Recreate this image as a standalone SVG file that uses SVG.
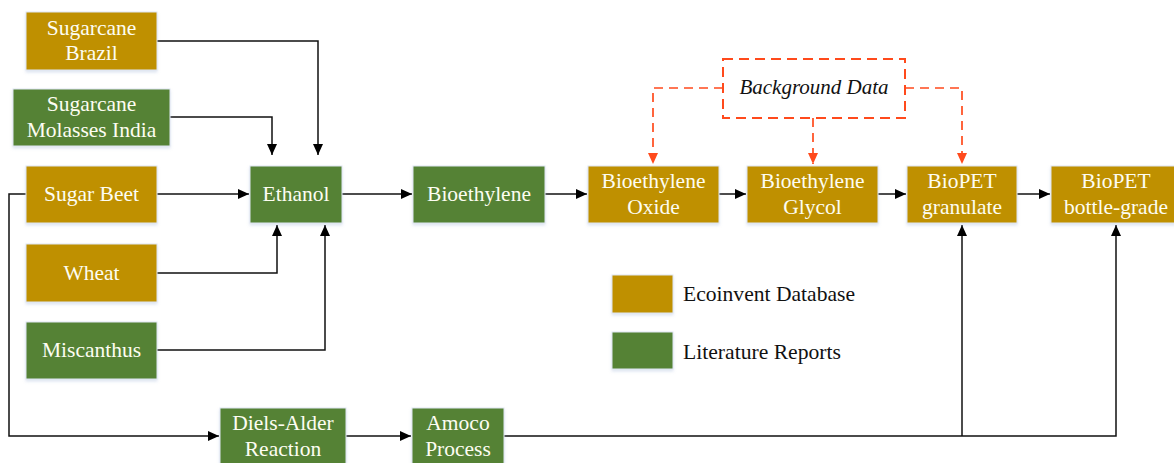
<svg xmlns="http://www.w3.org/2000/svg" width="1174" height="463" viewBox="0 0 1174 463">
  <defs>
    <marker id="arr" viewBox="0 0 11 10" refX="11" refY="5" markerWidth="11" markerHeight="10" markerUnits="userSpaceOnUse" orient="auto">
      <path d="M0,0 L11,5 L0,10 z" fill="#000"/>
    </marker>
    <marker id="arrRed" viewBox="0 0 11 10" refX="11" refY="5" markerWidth="11" markerHeight="10" markerUnits="userSpaceOnUse" orient="auto">
      <path d="M0,0 L11,5 L0,10 z" fill="#FF4A1C"/>
    </marker>
    <filter id="sh" x="-10%" y="-10%" width="125%" height="130%">
      <feGaussianBlur in="SourceAlpha" stdDeviation="1.5"/>
      <feOffset dx="0" dy="2" result="b"/>
      <feFlood flood-color="#9fb4d6" flood-opacity="0.35"/>
      <feComposite in2="b" operator="in"/>
      <feMerge><feMergeNode/><feMergeNode in="SourceGraphic"/></feMerge>
    </filter>
  </defs>
  <style>
    .gold { fill: #BF9000; stroke: #dfe6f2; stroke-width: 1; filter: url(#sh); }
    .green { fill: #548235; stroke: #dfe6f2; stroke-width: 1; filter: url(#sh); }
    .lbl { font-family: "Liberation Serif", "Times New Roman", serif; font-size: 21.5px; fill: #fdfdf2; text-anchor: middle; }
    .leg { font-family: "Liberation Serif", "Times New Roman", serif; font-size: 21px; fill: #111; }
    .bg { font-family: "Liberation Serif", "Times New Roman", serif; font-size: 21px; font-style: italic; fill: #111; text-anchor: middle; }
    .con { fill: none; stroke: #111; stroke-width: 1.5; }
    .arrow { marker-end: url(#arr); }
    .dash { fill: none; stroke: #FF4A1C; stroke-width: 1.7; stroke-dasharray: 9 6; }
    .dashArrow { marker-end: url(#arrRed); }
  </style>
  <rect width="1174" height="463" fill="#fff"/>

  <g id="connectors">
    <path class="con arrow" d="M157,41 H318 V155"/>
    <path class="con arrow" d="M170,117 H272 V155"/>
    <path class="con arrow" d="M157,194 H249"/>
    <path class="con arrow" d="M157,273 H277 V225"/>
    <path class="con arrow" d="M157,350 H325 V225"/>
    <path class="con arrow" d="M342,194 H412"/>
    <path class="con arrow" d="M545,194 H587"/>
    <path class="con arrow" d="M719,194 H746"/>
    <path class="con arrow" d="M878,194 H906"/>
    <path class="con arrow" d="M1017,194 H1050"/>
    <path class="con arrow" d="M26,194 H9 V436 H219"/>
    <path class="con arrow" d="M346,436 H411"/>
    <path class="con arrow" d="M504,436 H1116 V225"/>
    <path class="con arrow" d="M962,436 V225"/>
    <path class="dash dashArrow" d="M723,88 H653 V164"/>
    <path class="dash dashArrow" d="M813,118 V164"/>
    <path class="dash dashArrow" d="M905,88 H962 V164"/>
  </g>

  <g id="background-data">
    <rect x="723" y="59" width="182" height="59" fill="none" stroke="#FF4A1C" stroke-width="2" stroke-dasharray="10 6"/>
    <text class="bg" x="814" y="94">Background Data</text>
  </g>

  <g id="sugarcane-brazil">
    <rect class="gold" x="26" y="12" width="131" height="58"/>
    <text class="lbl" x="91.5" y="34.5">Sugarcane</text>
    <text class="lbl" x="91.5" y="60">Brazil</text>
  </g>
  <g id="sugarcane-molasses-india">
    <rect class="green" x="13" y="89" width="157" height="57"/>
    <text class="lbl" x="91.5" y="111">Sugarcane</text>
    <text class="lbl" x="91.5" y="136.5">Molasses India</text>
  </g>
  <g id="sugar-beet">
    <rect class="gold" x="26" y="166" width="131" height="57"/>
    <text class="lbl" x="91.5" y="201">Sugar Beet</text>
  </g>
  <g id="wheat">
    <rect class="gold" x="26" y="244" width="131" height="58"/>
    <text class="lbl" x="91.5" y="279.5">Wheat</text>
  </g>
  <g id="miscanthus">
    <rect class="green" x="26" y="322" width="131" height="57"/>
    <text class="lbl" x="91.5" y="357">Miscanthus</text>
  </g>
  <g id="ethanol">
    <rect class="green" x="250" y="166" width="92" height="57"/>
    <text class="lbl" x="296" y="201">Ethanol</text>
  </g>
  <g id="bioethylene">
    <rect class="green" x="413" y="166" width="132" height="57"/>
    <text class="lbl" x="479" y="201">Bioethylene</text>
  </g>
  <g id="bioethylene-oxide">
    <rect class="gold" x="588" y="166" width="131" height="57"/>
    <text class="lbl" x="653.5" y="188">Bioethylene</text>
    <text class="lbl" x="653.5" y="213.5">Oxide</text>
  </g>
  <g id="bioethylene-glycol">
    <rect class="gold" x="747" y="166" width="131" height="57"/>
    <text class="lbl" x="812.5" y="188">Bioethylene</text>
    <text class="lbl" x="812.5" y="213.5">Glycol</text>
  </g>
  <g id="biopet-granulate">
    <rect class="gold" x="907" y="166" width="110" height="57"/>
    <text class="lbl" x="962" y="188">BioPET</text>
    <text class="lbl" x="962" y="213.5">granulate</text>
  </g>
  <g id="biopet-bottle-grade">
    <rect class="gold" x="1051" y="166" width="130" height="57"/>
    <text class="lbl" x="1116" y="188">BioPET</text>
    <text class="lbl" x="1116" y="213.5">bottle-grade</text>
  </g>
  <g id="diels-alder">
    <rect class="green" x="220" y="408" width="126" height="58"/>
    <text class="lbl" x="283" y="430">Diels-Alder</text>
    <text class="lbl" x="283" y="455.5">Reaction</text>
  </g>
  <g id="amoco-process">
    <rect class="green" x="412" y="408" width="92" height="58"/>
    <text class="lbl" x="458" y="430">Amoco</text>
    <text class="lbl" x="458" y="455.5">Process</text>
  </g>

  <g id="legend">
    <rect class="gold" x="612" y="275" width="61" height="38"/>
    <text class="leg" x="683" y="300.5" textLength="172" lengthAdjust="spacingAndGlyphs">Ecoinvent Database</text>
    <rect class="green" x="612" y="332" width="61" height="37"/>
    <text class="leg" x="683" y="359" textLength="158" lengthAdjust="spacingAndGlyphs">Literature Reports</text>
  </g>
</svg>
